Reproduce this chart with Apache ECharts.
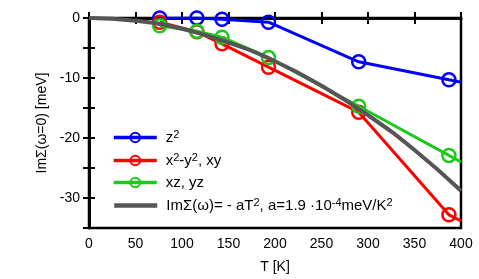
<!DOCTYPE html>
<html><head><meta charset="utf-8">
<script src="https://cdn.jsdelivr.net/npm/echarts@6/dist/echarts.min.js"></script>
<style>html,body{margin:0;padding:0;background:#fff}#c{width:479px;height:279px}</style>
</head><body><div id="c"></div>
<script>
const temps = [76, 116, 143, 193, 290, 387];
const z2 = [0, 0, -0.2, -0.7, -7.3, -10.3];
const x2y2 = [-0.7, -2.3, -4.3, -8.2, -15.7, -32.8];
const xzyz = [-1.3, -2.2, -3.2, -6.6, -14.7, -22.9];
const edgeT = 400;
const edgeZ2 = -10.7;
const edgeX2y2 = -33.8;
const edgeXzyz = -24.0;
const fitT = [0, 50, 100, 150, 200, 250, 300, 350, 400];
const fitVals = [0, -0.45, -1.8, -4.1, -7.2, -11.3, -16.2, -22.0, -28.8];
const xTicks = [0, 50, 100, 150, 200, 250, 300, 350, 400];
const yTicks = [0, -10, -20, -30];
const names = ['z2', 'x2-y2, xy', 'xz, yz', 'fit'];
const labels = {
  'z2': 'z{s|2}',
  'x2-y2, xy': 'x{s|2}-y{s|2}, xy',
  'xz, yz': 'xz, yz',
  'fit': 'ImΣ(ω)= - aT{s|2}, a=1.9 ·10{s|-4}meV/K{s|2}'
};
const font = 'Liberation Sans, Arial, sans-serif';
function mk(vals, edge) {
  const d = temps.map((t, i) => [t, vals[i]]);
  d.push({ value: [edgeT, edge], symbol: 'none' });
  return d;
}
const rich = {
  s: { fontSize: 11, fontFamily: font, color: '#000', verticalAlign: 'top', lineHeight: 17, padding: [0, 0, 7, 0] }
};
const legendRows = [129, 152, 175, 197];
const chart = echarts.init(document.getElementById('c'), null, { renderer: 'canvas' });
const axisBase = {
  axisLine: { show: true, lineStyle: { color: '#000', width: 2.5 } },
  axisTick: { show: true, inside: true, length: 6, lineStyle: { color: '#000', width: 2 } },
  splitLine: { show: false }
};
const colors = { 'z2': '#0000ff', 'x2-y2, xy': '#ff0000', 'xz, yz': '#1ec81e', 'fit': '#555555' };
function colored(name, vals, edge, z) {
  const col = colors[name];
  return { name: name, type: 'line', data: mk(vals, edge), symbol: 'circle', symbolSize: 13,
    lineStyle: { width: 3, color: col },
    itemStyle: { color: 'rgba(255,255,255,0)', borderColor: col, borderWidth: 2.5 }, z: z };
}
chart.setOption({
  animation: false,
  grid: { left: 89, right: 18, top: 18, bottom: 50, show: true, borderColor: '#000', borderWidth: 2.5, backgroundColor: 'transparent' },
  xAxis: [
    Object.assign({}, axisBase, {
      type: 'value', min: 0, max: 400, interval: 50, position: 'bottom',
      name: 'T [K]', nameLocation: 'middle', nameGap: 32,
      nameTextStyle: { fontFamily: font, fontSize: 14, color: '#000' },
      axisLabel: { fontFamily: font, fontSize: 14, color: '#000', margin: 9,
        formatter: v => xTicks.includes(v) ? String(v) : '' }
    }),
    Object.assign({}, axisBase, {
      type: 'value', min: 0, max: 400, interval: 50, position: 'top',
      axisLabel: { show: false }
    })
  ],
  yAxis: [
    Object.assign({}, axisBase, {
      type: 'value', min: -35, max: 0, interval: 5, position: 'left',
      name: 'ImΣ(ω=0) [meV]', nameLocation: 'middle', nameGap: 40, nameRotate: 90,
      nameTextStyle: { fontFamily: font, fontSize: 14, color: '#000' },
      axisLabel: { fontFamily: font, fontSize: 14, color: '#000', margin: 9,
        formatter: v => yTicks.includes(v) ? String(v) : '' }
    }),
    Object.assign({}, axisBase, {
      type: 'value', min: -35, max: 0, interval: 5, position: 'right',
      axisLabel: { show: false }
    })
  ],
  legend: names.map((n, i) => {
    const lg = {
      data: [n], orient: 'vertical', left: 112, top: legendRows[i],
      itemWidth: 43, itemHeight: 12, itemGap: 0, padding: 0,
      selectedMode: false,
      formatter: nm => labels[nm],
      lineStyle: { width: n === 'fit' ? 4.5 : 3.5, color: colors[n] },
      textStyle: { fontFamily: font, fontSize: 15, color: '#000', rich: rich, padding: [0, 0, 0, 4] }
    };
    if (n === 'fit') lg.itemStyle = { opacity: 0 };
    return lg;
  }),
  series: [
    colored('z2', z2, edgeZ2, 3),
    colored('x2-y2, xy', x2y2, edgeX2y2, 4),
    colored('xz, yz', xzyz, edgeXzyz, 5),
    { name: 'fit', type: 'line', data: fitT.map((t, i) => [t, fitVals[i]]), symbol: 'none', smooth: true,
      color: '#555555', lineStyle: { width: 4, color: '#555555' }, z: 6 }
  ]
});
</script></body></html>
